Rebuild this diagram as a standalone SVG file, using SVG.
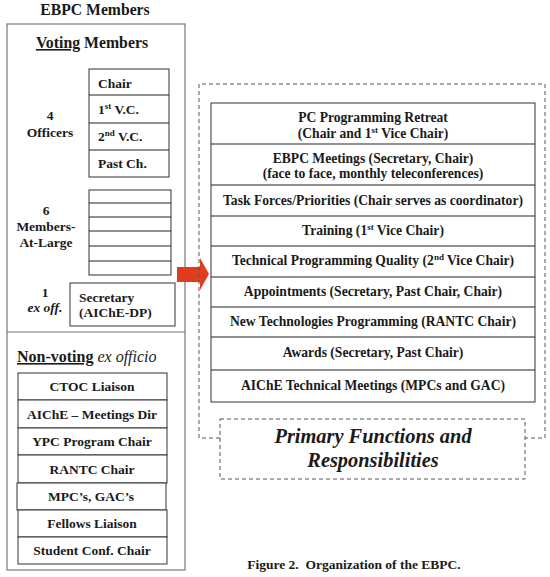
<svg xmlns="http://www.w3.org/2000/svg" width="550" height="577" viewBox="0 0 550 577">
<style>
text{font-family:"Liberation Serif","Times New Roman",serif;font-weight:bold;fill:#1a1a1a}
.t12{font-size:13.5px}
.t11{font-size:13.6px}
.sup{font-size:9px}
.c{text-anchor:middle}
.box{fill:#fff;stroke:#333;stroke-width:1}
.gbox{fill:none;stroke:#777;stroke-width:1.2}
.dash{fill:none;stroke:#555;stroke-width:1;stroke-dasharray:4,3}
.ln{stroke:#222;stroke-width:1}
.it{font-style:italic}
</style>
<rect width="550" height="577" fill="#fff"/>

<text x="95" y="15" class="c" font-size="15.7">EBPC Members</text>

<g id="members">
<rect class="gbox" x="7" y="24" width="178" height="546"/>
<line class="gbox" x1="7" y1="332" x2="185" y2="332"/>
</g>

<g id="voting">
<text x="92" y="48" class="c" font-size="15.8"><tspan text-decoration="underline">Voting</tspan> Members</text>
</g>

<g id="officers">
<text x="50" y="120" class="c t12">4</text>
<text x="50" y="137" class="c t12">Officers</text>
<rect class="box" x="89" y="69" width="80" height="108"/>
<line class="ln" x1="89" y1="95" x2="169" y2="95"/>
<line class="ln" x1="89" y1="123" x2="169" y2="123"/>
<line class="ln" x1="89" y1="150" x2="169" y2="150"/>
<text x="98" y="88" class="t12">Chair</text>
<text x="98" y="114" class="t12">1<tspan class="sup" dy="-5">st</tspan><tspan dy="5"> V.C.</tspan></text>
<text x="98" y="141" class="t12">2<tspan class="sup" dy="-5">nd</tspan><tspan dy="5"> V.C.</tspan></text>
<text x="98" y="168" class="t12">Past Ch.</text>
</g>

<g id="members-at-large">
<text x="46" y="215" class="c t12">6</text>
<text x="46" y="231" class="c t12">Members-</text>
<text x="46" y="247" class="c t12">At-Large</text>
<rect class="box" x="89" y="190" width="82" height="85"/>
<line class="ln" x1="89" y1="203" x2="171" y2="203"/>
<line class="ln" x1="89" y1="217" x2="171" y2="217"/>
<line class="ln" x1="89" y1="231" x2="171" y2="231"/>
<line class="ln" x1="89" y1="246" x2="171" y2="246"/>
<line class="ln" x1="89" y1="261" x2="171" y2="261"/>
</g>

<g id="secretary">
<text x="45" y="297" class="c t12">1</text>
<text x="45" y="312" class="c t12 it" font-weight="normal">ex off.</text>
<rect class="box" x="70" y="283" width="105" height="43" stroke="#555"/>
<text x="79" y="302" class="t12">Secretary</text>
<text x="79" y="317" class="t12">(AIChE-DP)</text>
</g>

<g id="nonvoting">
<text x="17" y="362" font-size="16"><tspan text-decoration="underline">Non-voting</tspan> <tspan class="it" font-weight="normal">ex officio</tspan></text>
<rect class="box" x="18" y="373" width="149" height="27"/>
<text x="92" y="391" class="c t12">CTOC Liaison</text>
<rect class="box" x="18" y="400" width="149" height="28"/>
<text x="92" y="419" class="c t12">AIChE – Meetings Dir</text>
<rect class="box" x="18" y="428" width="149" height="27"/>
<text x="92" y="446" class="c t12">YPC Program Chair</text>
<rect class="box" x="18" y="455" width="149" height="28"/>
<text x="92" y="474" class="c t12">RANTC Chair</text>
<rect class="box" x="17" y="483" width="149" height="27"/>
<text x="91" y="501" class="c t12">MPC’s, GAC’s</text>
<rect class="box" x="18" y="510" width="149" height="27"/>
<text x="92" y="528" class="c t12">Fellows Liaison</text>
<rect class="box" x="18" y="537" width="149" height="27"/>
<text x="92" y="555" class="c t12">Student Conf. Chair</text>
</g>

<g id="connectors">
<polygon points="177,267 200,267 200,258 209,274 200,290 200,282 177,282" fill="#e03c20"/>
</g>

<g id="functions">
<path class="dash" d="M220,438 H199 V84 H545 V438 H525"/>
<rect class="box" x="211" y="103" width="324" height="299"/>
<line class="ln" x1="211" y1="144" x2="535" y2="144"/>
<line class="ln" x1="211" y1="185" x2="535" y2="185"/>
<line class="ln" x1="211" y1="216" x2="535" y2="216"/>
<line class="ln" x1="211" y1="246" x2="535" y2="246"/>
<line class="ln" x1="211" y1="277" x2="535" y2="277"/>
<line class="ln" x1="211" y1="307" x2="535" y2="307"/>
<line class="ln" x1="211" y1="337" x2="535" y2="337"/>
<line class="ln" x1="211" y1="370" x2="535" y2="370"/>
<text x="373" y="122" class="c t11">PC Programming Retreat</text>
<text x="373" y="138" class="c t11">(Chair and 1<tspan class="sup" dy="-5">st</tspan><tspan dy="5"> Vice Chair)</tspan></text>
<text x="373" y="163" class="c t11">EBPC Meetings (Secretary, Chair)</text>
<text x="373" y="178" class="c t11">(face to face, monthly teleconferences)</text>
<text x="373" y="205" class="c t11">Task Forces/Priorities (Chair serves as coordinator)</text>
<text x="373" y="235" class="c t11">Training (1<tspan class="sup" dy="-5">st</tspan><tspan dy="5"> Vice Chair)</tspan></text>
<text x="373" y="265" class="c t11">Technical Programming Quality (2<tspan class="sup" dy="-5">nd</tspan><tspan dy="5"> Vice Chair)</tspan></text>
<text x="373" y="296" class="c t11">Appointments (Secretary, Past Chair, Chair)</text>
<text x="373" y="326" class="c t11">New Technologies Programming (RANTC Chair)</text>
<text x="373" y="357" class="c t11">Awards (Secretary, Past Chair)</text>
<text x="373" y="390" class="c t11">AIChE Technical Meetings (MPCs and GAC)</text>
</g>

<g id="title">
<rect class="dash" x="220" y="419" width="305" height="60"/>
<text x="373" y="443" class="c it" font-size="20.4">Primary Functions and</text>
<text x="373" y="467" class="c it" font-size="20.4">Responsibilities</text>
</g>

<text x="354" y="569" class="c" font-size="13.5" xml:space="preserve">Figure 2.  Organization of the EBPC.</text>
</svg>
